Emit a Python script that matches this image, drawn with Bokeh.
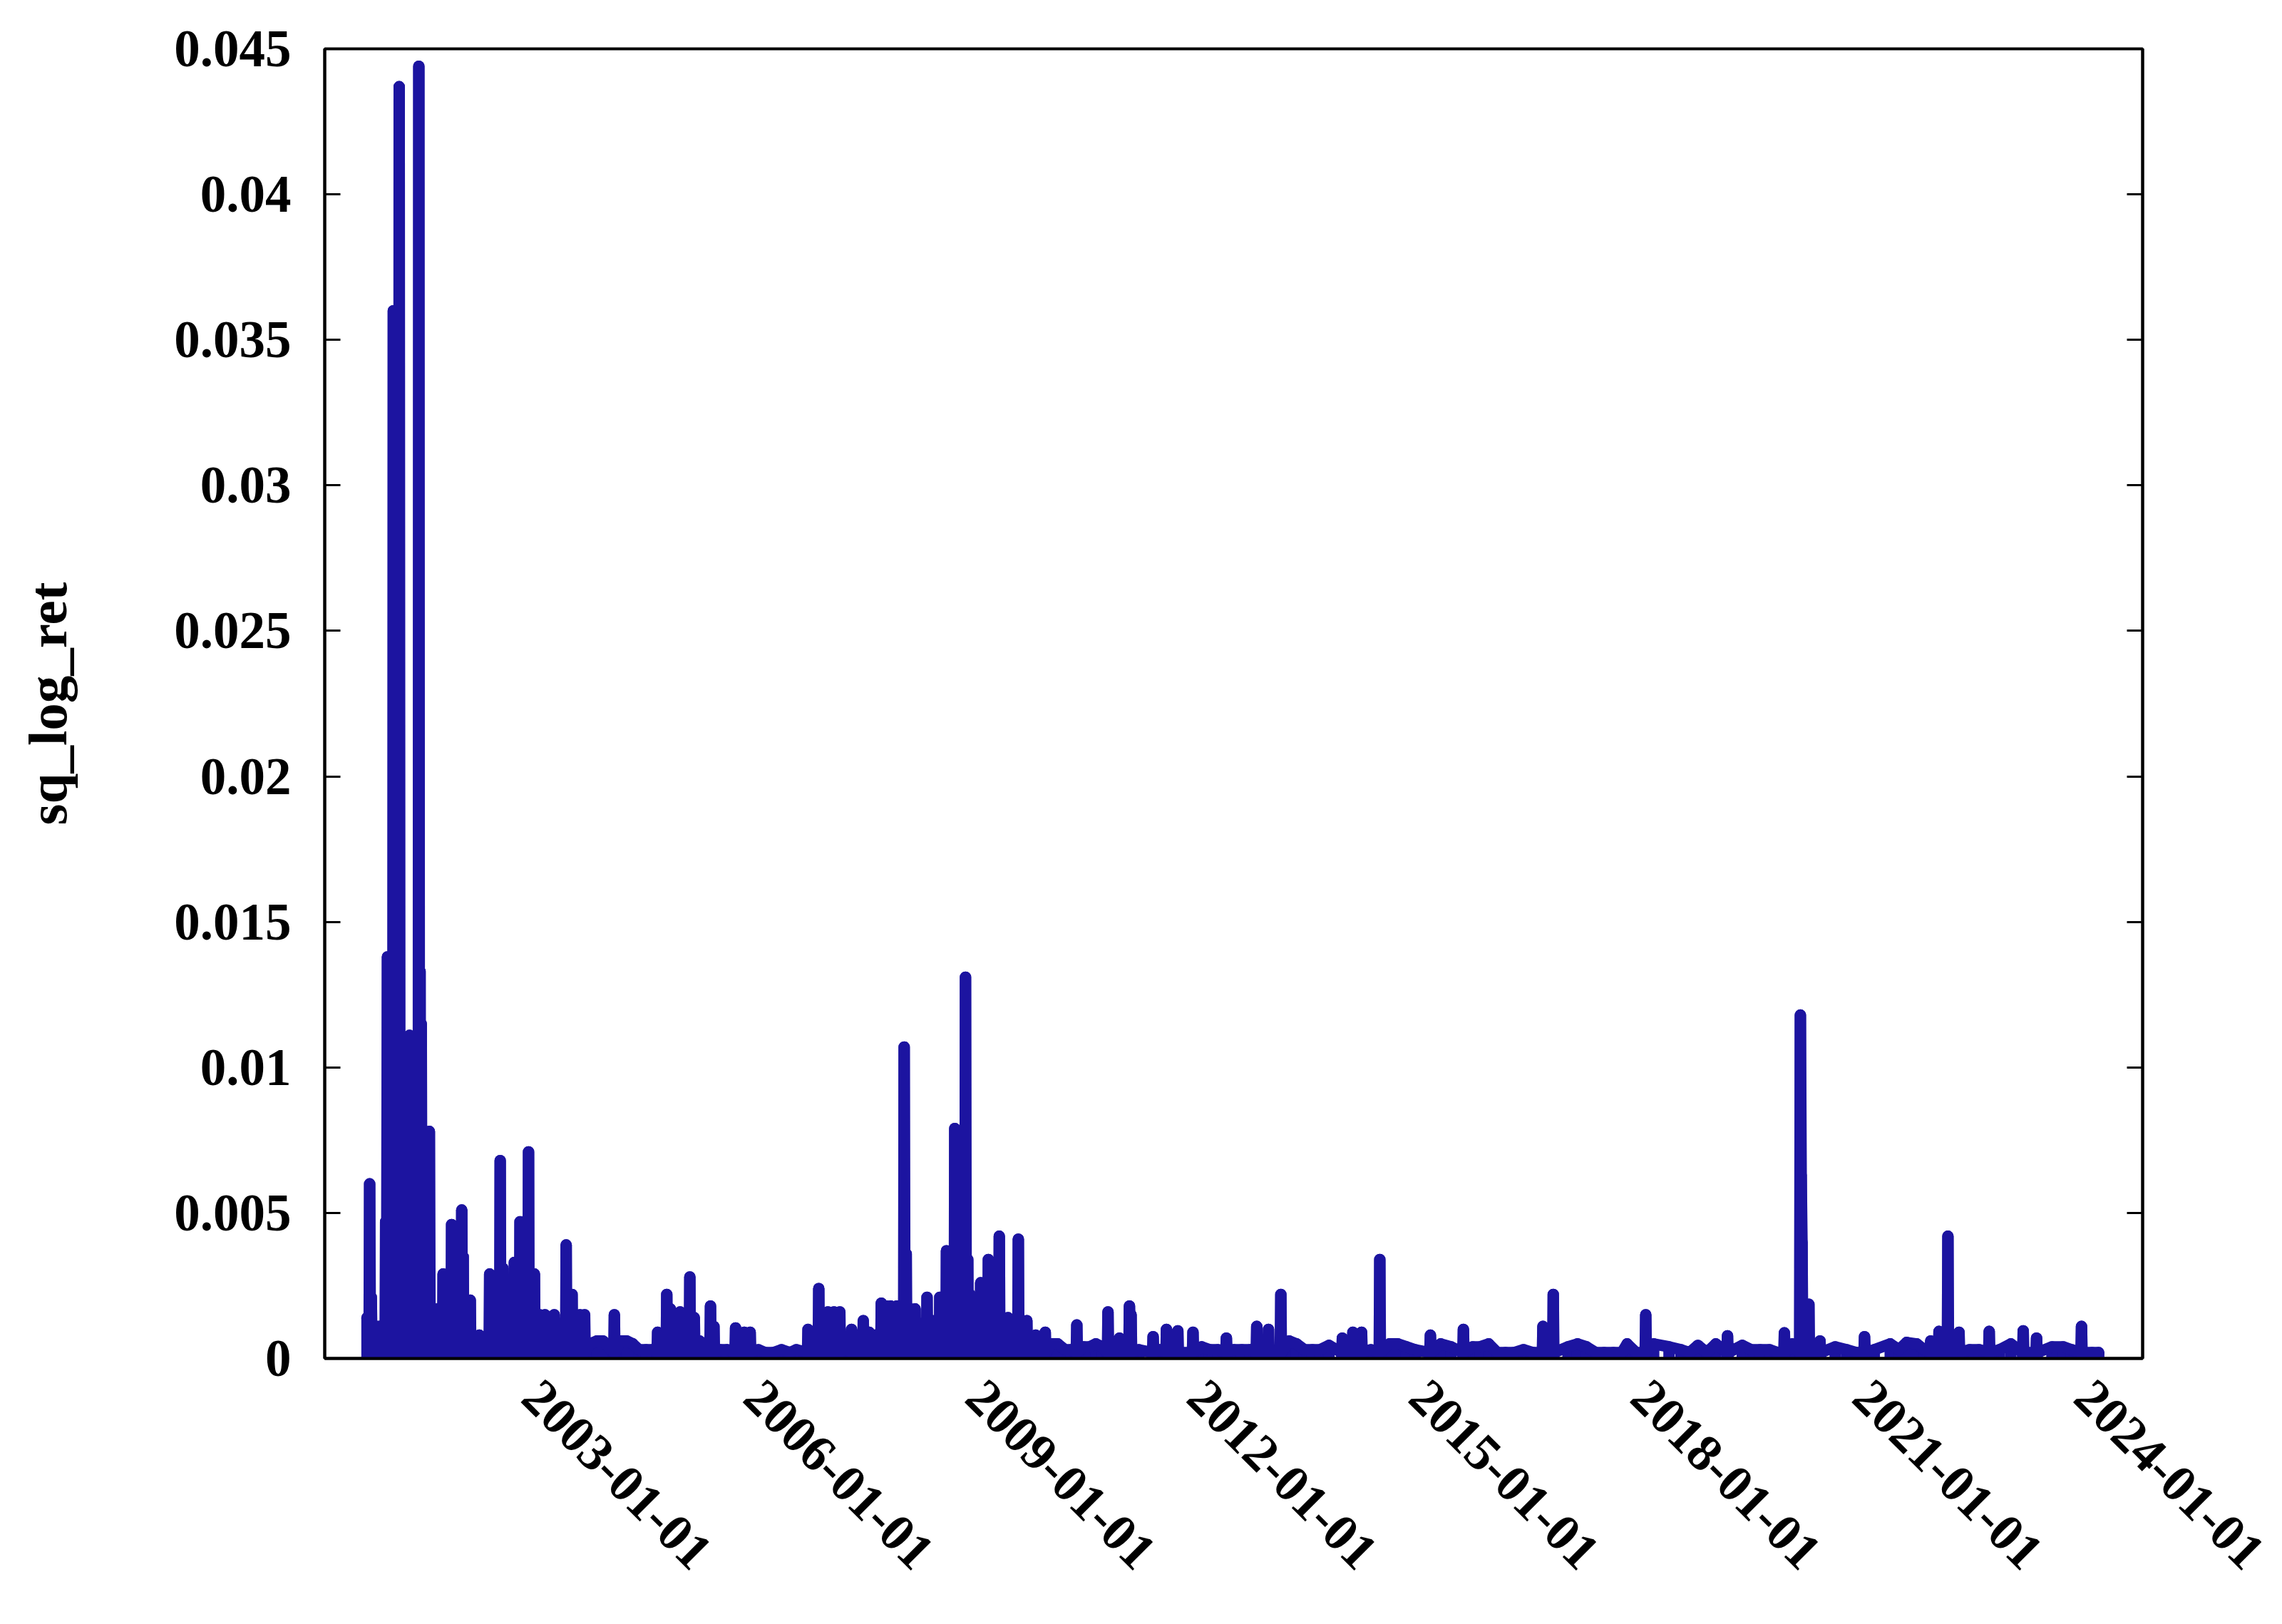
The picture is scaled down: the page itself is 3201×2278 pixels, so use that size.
import math
import pandas as pd
from bokeh.plotting import figure
from bokeh.models import (ColumnDataSource, Range1d, FixedTicker, DatetimeTickFormatter,
                          CustomJSTickFormatter, LinearAxis)
from bokeh.embed import file_html
from bokeh.resources import INLINE

# ---------------- data ----------------
dates_2000_2004 = [
    "2000-10-10", "2000-10-20", "2000-10-23", "2000-10-27", "2000-10-31", "2000-11-04", "2000-11-22",
    "2000-11-25", "2000-11-28", "2000-12-07", "2000-12-10", "2000-12-13", "2000-12-23", "2000-12-26",
    "2000-12-29", "2001-01-07", "2001-01-10", "2001-01-14", "2001-01-19", "2001-01-23", "2001-01-31",
    "2001-02-03", "2001-02-06", "2001-02-14", "2001-02-17", "2001-02-21", "2001-02-27", "2001-03-02",
    "2001-03-05", "2001-03-15", "2001-03-18", "2001-03-22", "2001-04-07", "2001-04-10", "2001-04-13",
    "2001-05-05", "2001-05-08", "2001-05-12", "2001-05-27", "2001-05-30", "2001-06-02", "2001-06-20",
    "2001-06-23", "2001-06-26", "2001-06-29", "2001-07-02", "2001-07-05", "2001-07-09", "2001-08-11",
    "2001-08-14", "2001-08-18", "2001-09-20", "2001-09-23", "2001-09-26", "2001-10-18", "2001-10-21",
    "2001-10-24", "2001-11-29", "2001-12-02", "2001-12-06", "2002-01-18", "2002-01-21", "2002-01-25",
    "2002-01-28", "2002-01-31", "2002-03-01", "2002-03-04", "2002-03-07", "2002-04-15", "2002-04-18",
    "2002-04-21", "2002-06-05", "2002-06-08", "2002-06-11", "2002-07-27", "2002-07-30", "2002-08-02",
    "2002-08-09", "2002-08-12", "2002-08-15", "2002-09-03", "2002-09-06", "2002-09-09", "2002-10-05",
    "2002-10-08", "2002-10-11", "2002-11-02", "2002-11-05", "2002-11-08", "2002-12-14", "2002-12-17",
    "2002-12-20", "2003-01-12", "2003-01-15", "2003-01-18", "2003-02-07", "2003-02-10", "2003-02-13",
    "2003-03-05", "2003-03-08", "2003-03-11", "2003-04-20", "2003-04-23", "2003-04-26", "2003-05-19",
    "2003-05-22", "2003-05-25", "2003-06-18", "2003-06-21", "2003-06-24", "2003-07-17", "2003-07-20",
    "2003-07-23", "2003-08-25", "2003-08-28", "2003-08-31", "2003-09-17", "2003-09-20", "2003-09-23",
    "2003-10-15", "2003-11-20", "2003-12-20", "2004-02-11", "2004-02-14", "2004-02-17", "2004-03-15",
    "2004-04-15", "2004-05-15", "2004-06-15", "2004-07-20", "2004-08-20", "2004-09-12", "2004-09-15",
    "2004-09-18", "2004-10-27", "2004-10-30", "2004-11-02", "2004-11-14", "2004-11-17", "2004-11-20",
    "2004-12-02", "2004-12-05", "2004-12-08",
]
sq_2000_2004 = [
    0.0014, 0.0002, 0.0060, 0.0002, 0.0021, 0.0002, 0.0002,
    0.0011, 0.0002, 0.0002, 0.0011, 0.0002, 0.0002, 0.0011,
    0.0002, 0.0002, 0.0047, 0.0002, 0.0138, 0.0002, 0.0002,
    0.0010, 0.0002, 0.0002, 0.0360, 0.0002, 0.0002, 0.0030,
    0.0002, 0.0002, 0.0437, 0.0002, 0.0002, 0.0030, 0.0002,
    0.0002, 0.0111, 0.0002, 0.0002, 0.0030, 0.0002, 0.0002,
    0.0444, 0.0003, 0.0133, 0.0003, 0.0115, 0.0002, 0.0002,
    0.0078, 0.0002, 0.0002, 0.0017, 0.0002, 0.0002, 0.0029,
    0.0002, 0.0002, 0.0046, 0.0002, 0.0002, 0.0051, 0.0002,
    0.0035, 0.0002, 0.0002, 0.0020, 0.0002, 0.0002, 0.0008,
    0.0002, 0.0002, 0.0029, 0.0002, 0.0002, 0.0068, 0.0002,
    0.0002, 0.0031, 0.0002, 0.0002, 0.0026, 0.0002, 0.0002,
    0.0033, 0.0002, 0.0002, 0.0047, 0.0002, 0.0002, 0.0071,
    0.0002, 0.0002, 0.0029, 0.0002, 0.0002, 0.0015, 0.0002,
    0.0002, 0.0015, 0.0002, 0.0002, 0.0015, 0.0002, 0.0002,
    0.0012, 0.0002, 0.0002, 0.0039, 0.0002, 0.0002, 0.0022,
    0.0002, 0.0002, 0.0015, 0.0002, 0.0002, 0.0015, 0.0002,
    0.0005, 0.0006, 0.0006, 0.0002, 0.0015, 0.0002, 0.0006,
    0.0006, 0.0005, 0.0003, 0.0003, 0.0003, 0.0002, 0.0009,
    0.0002, 0.0002, 0.0022, 0.0002, 0.0002, 0.0017, 0.0002,
    0.0002, 0.0008, 0.0002,
]

dates_2005_2009 = [
    "2005-01-01", "2005-01-04", "2005-01-07", "2005-02-18", "2005-02-21", "2005-02-24", "2005-03-12",
    "2005-03-15", "2005-03-18", "2005-04-07", "2005-04-10", "2005-04-13", "2005-05-31", "2005-06-03",
    "2005-06-06", "2005-06-17", "2005-06-20", "2005-06-23", "2005-07-20", "2005-08-25", "2005-10-02",
    "2005-10-05", "2005-10-08", "2005-11-14", "2005-11-17", "2005-11-20", "2005-12-13", "2005-12-16",
    "2005-12-19", "2006-01-25", "2006-03-01", "2006-04-10", "2006-05-20", "2006-07-01", "2006-08-01",
    "2006-09-25", "2006-09-28", "2006-10-01", "2006-11-17", "2006-11-20", "2006-11-23", "2007-01-01",
    "2007-01-04", "2007-01-07", "2007-01-31", "2007-02-03", "2007-02-06", "2007-03-01", "2007-03-04",
    "2007-03-07", "2007-03-25", "2007-04-28", "2007-05-01", "2007-05-04", "2007-05-22", "2007-05-25",
    "2007-05-28", "2007-06-25", "2007-06-28", "2007-07-01", "2007-07-24", "2007-07-27", "2007-07-30",
    "2007-08-22", "2007-08-25", "2007-08-28", "2007-09-22", "2007-09-25", "2007-09-28", "2007-10-17",
    "2007-10-20", "2007-10-23", "2007-11-07", "2007-11-10", "2007-11-13", "2007-12-07", "2007-12-10",
    "2007-12-13", "2008-01-13", "2008-01-16", "2008-01-20", "2008-01-26", "2008-01-29", "2008-02-12",
    "2008-02-15", "2008-02-18", "2008-03-07", "2008-03-10", "2008-03-13", "2008-04-07", "2008-04-10",
    "2008-04-13", "2008-05-05", "2008-05-08", "2008-05-11", "2008-06-02", "2008-06-05", "2008-06-08",
    "2008-07-07", "2008-07-10", "2008-07-13", "2008-08-05", "2008-08-09", "2008-08-12", "2008-08-15",
    "2008-09-19", "2008-09-22", "2008-09-25", "2008-11-11", "2008-11-14", "2008-11-18", "2008-11-25",
    "2008-11-28", "2008-12-03", "2008-12-06", "2008-12-09", "2009-01-25", "2009-01-28", "2009-01-31",
    "2009-02-05", "2009-02-08", "2009-03-04", "2009-03-07", "2009-03-10", "2009-04-27", "2009-04-30",
    "2009-05-03", "2009-06-09", "2009-06-12", "2009-06-15", "2009-07-30", "2009-08-02", "2009-08-05",
    "2009-09-10", "2009-09-13", "2009-09-16", "2009-10-24", "2009-10-27", "2009-10-30", "2009-12-10",
    "2009-12-13", "2009-12-16",
]
sq_2005_2009 = [
    0.0002, 0.0016, 0.0002, 0.0002, 0.0028, 0.0002, 0.0002,
    0.0014, 0.0002, 0.0002, 0.0006, 0.0002, 0.0002, 0.0018,
    0.0002, 0.0002, 0.0011, 0.0002, 0.0003, 0.0003, 0.0002,
    0.00105, 0.0002, 0.0002, 0.0009, 0.0002, 0.0002, 0.0009,
    0.0002, 0.0003, 0.0002, 0.0002, 0.0003, 0.0002, 0.0003,
    0.0002, 0.0010, 0.0002, 0.0002, 0.0024, 0.0002, 0.0002,
    0.0016, 0.0002, 0.0002, 0.0016, 0.0002, 0.0002, 0.0016,
    0.0002, 0.0004, 0.0002, 0.0010, 0.0002, 0.0002, 0.0008,
    0.0002, 0.0002, 0.0013, 0.0002, 0.0002, 0.0009, 0.0002,
    0.0002, 0.0008, 0.0002, 0.0002, 0.0019, 0.0002, 0.0002,
    0.0018, 0.0002, 0.0002, 0.0018, 0.0002, 0.0002, 0.0018,
    0.0002, 0.0002, 0.0107, 0.0002, 0.0036, 0.0002, 0.0002,
    0.0017, 0.0002, 0.0002, 0.0017, 0.0002, 0.0002, 0.0012,
    0.0002, 0.0002, 0.0021, 0.0002, 0.0002, 0.0013, 0.0002,
    0.0002, 0.0021, 0.0002, 0.0006, 0.0002, 0.0037, 0.0002,
    0.0002, 0.0079, 0.0002, 0.0002, 0.0131, 0.0002, 0.0034,
    0.0002, 0.0002, 0.0022, 0.0002, 0.0002, 0.0026, 0.0002,
    0.0020, 0.0002, 0.0002, 0.0034, 0.0002, 0.0002, 0.0042,
    0.0002, 0.0002, 0.0014, 0.0002, 0.0002, 0.0041, 0.0002,
    0.0002, 0.0013, 0.0002, 0.0002, 0.0008, 0.0002, 0.0002,
    0.0009, 0.0002,
]

dates_2010_2014 = [
    "2010-01-15", "2010-02-13", "2010-03-20", "2010-04-20", "2010-05-15", "2010-05-18", "2010-05-21",
    "2010-06-20", "2010-07-20", "2010-08-20", "2010-09-20", "2010-10-16", "2010-10-19", "2010-10-22",
    "2010-12-12", "2010-12-15", "2010-12-18", "2011-01-30", "2011-02-02", "2011-02-06", "2011-02-10",
    "2011-02-13", "2011-03-20", "2011-05-27", "2011-05-30", "2011-06-02", "2011-07-01", "2011-08-01",
    "2011-08-04", "2011-08-07", "2011-09-26", "2011-09-29", "2011-10-02", "2011-12-10", "2011-12-13",
    "2011-12-16", "2012-01-25", "2012-03-05", "2012-04-15", "2012-05-23", "2012-05-26", "2012-05-29",
    "2012-07-01", "2012-08-10", "2012-09-20", "2012-10-20", "2012-10-23", "2012-10-26", "2012-12-17",
    "2012-12-20", "2012-12-23", "2013-02-16", "2013-02-19", "2013-02-22", "2013-04-01", "2013-05-08",
    "2013-06-15", "2013-07-25", "2013-09-01", "2013-10-15", "2013-12-17", "2013-12-20", "2013-12-23",
    "2014-02-07", "2014-02-10", "2014-02-13", "2014-03-22", "2014-03-25", "2014-03-28", "2014-05-10",
    "2014-06-20", "2014-06-23", "2014-06-26", "2014-08-10", "2014-09-20", "2014-11-01", "2014-12-15",
]
sq_2010_2014 = [
    0.0005, 0.0005, 0.0003, 0.0003, 0.0002, 0.00115, 0.0002,
    0.0004, 0.0004, 0.0005, 0.0004, 0.0002, 0.0016, 0.0002,
    0.0002, 0.0007, 0.0002, 0.0002, 0.0018, 0.0003, 0.0015,
    0.0002, 0.0003, 0.0002, 0.00075, 0.0002, 0.0003, 0.0002,
    0.0010, 0.0002, 0.0002, 0.00095, 0.0002, 0.0002, 0.0009,
    0.0002, 0.0004, 0.0003, 0.0003, 0.0002, 0.0007, 0.0002,
    0.0003, 0.0003, 0.0003, 0.0002, 0.0011, 0.0002, 0.0002,
    0.0010, 0.0002, 0.0002, 0.0022, 0.0002, 0.0006, 0.0005,
    0.0003, 0.0003, 0.0003, 0.00045, 0.0002, 0.0007, 0.0002,
    0.0002, 0.0009, 0.0002, 0.0002, 0.0009, 0.0002, 0.0003,
    0.0002, 0.0034, 0.0002, 0.0005, 0.0005, 0.0004, 0.0003,
]

dates_2015_2019 = [
    "2015-02-25", "2015-02-28", "2015-03-03", "2015-04-20", "2015-06-10", "2015-08-07", "2015-08-10",
    "2015-08-13", "2015-09-25", "2015-11-01", "2015-12-13", "2016-01-25", "2016-03-05", "2016-04-15",
    "2016-06-02", "2016-07-20", "2016-09-03", "2016-09-06", "2016-09-09", "2016-10-24", "2016-10-27",
    "2016-10-30", "2017-01-08", "2017-02-24", "2017-04-09", "2017-05-25", "2017-07-05", "2017-08-20",
    "2017-10-01", "2017-10-27", "2017-12-10", "2018-01-24", "2018-01-27", "2018-01-30", "2018-03-07",
    "2018-05-22", "2018-07-20", "2018-09-01", "2018-10-12", "2018-11-25", "2019-01-08", "2019-03-04",
    "2019-03-07", "2019-03-10", "2019-05-19", "2019-07-01", "2019-08-15", "2019-10-01", "2019-11-10",
    "2019-12-10", "2019-12-13", "2019-12-16",
]
sq_2015_2019 = [
    0.0002, 0.0008, 0.0002, 0.0005, 0.0004, 0.0002, 0.0010,
    0.0002, 0.0004, 0.0004, 0.0005, 0.0002, 0.0002, 0.0002,
    0.0003, 0.0002, 0.0002, 0.0011, 0.0002, 0.0002, 0.0022,
    0.0002, 0.0004, 0.0005, 0.0004, 0.0002, 0.0002, 0.0002,
    0.0002, 0.0005, 0.0002, 0.0002, 0.0015, 0.0002, 0.0005,
    0.0004, 0.0003, 0.0002, 0.00045, 0.0002, 0.0005, 0.0002,
    0.00078, 0.0002, 0.00045, 0.0003, 0.0003, 0.0003, 0.0002,
    0.0002, 0.00088, 0.0002,
]

dates_2020_2024 = [
    "2020-01-20", "2020-02-26", "2020-03-01", "2020-03-05", "2020-03-09", "2020-03-13", "2020-04-09",
    "2020-04-12", "2020-04-15", "2020-06-03", "2020-06-06", "2020-06-09", "2020-08-20", "2020-10-15",
    "2020-12-05", "2021-01-09", "2021-01-12", "2021-01-15", "2021-03-01", "2021-05-19", "2021-07-01",
    "2021-08-08", "2021-09-27", "2021-11-03", "2021-12-02", "2021-12-05", "2021-12-08", "2022-01-12",
    "2022-01-15", "2022-01-18", "2022-02-25", "2022-02-28", "2022-03-03", "2022-04-21", "2022-04-24",
    "2022-04-27", "2022-06-15", "2022-08-01", "2022-09-17", "2022-09-20", "2022-09-23", "2022-11-10",
    "2023-01-05", "2023-03-04", "2023-03-07", "2023-03-10", "2023-05-09", "2023-05-12", "2023-05-15",
    "2023-07-27", "2023-09-20", "2023-11-01", "2023-12-17", "2023-12-20", "2023-12-23", "2024-02-10",
    "2024-03-14",
]
sq_2020_2024 = [
    0.0005, 0.0002, 0.0118, 0.0063, 0.0040, 0.0002, 0.0002,
    0.00186, 0.0002, 0.0002, 0.0006, 0.0002, 0.0004, 0.0003,
    0.0002, 0.0002, 0.00075, 0.0002, 0.0003, 0.0005, 0.0003,
    0.00055, 0.0005, 0.0003, 0.0002, 0.0006, 0.0002, 0.0002,
    0.00093, 0.0002, 0.0002, 0.0042, 0.0002, 0.0002, 0.0009,
    0.0002, 0.0003, 0.0003, 0.0002, 0.00093, 0.0002, 0.0003,
    0.0005, 0.0002, 0.00095, 0.0002, 0.0002, 0.0007, 0.0002,
    0.0004, 0.0004, 0.0003, 0.0002, 0.0011, 0.0002, 0.0002,
    0.0002,
]

y_ticks = [0.0, 0.005, 0.01, 0.015, 0.02, 0.025, 0.03, 0.035, 0.04, 0.045]
y_tick_labels = ["0", "0.005", "0.01", "0.015", "0.02", "0.025", "0.03", "0.035", "0.04", "0.045"]
x_tick_labels = ["2003-01-01", "2006-01-01", "2009-01-01", "2012-01-01",
                 "2015-01-01", "2018-01-01", "2021-01-01", "2024-01-01"]
x_start, x_end = "2000-03-15", "2024-10-17"
y_label = "sq_log_ret"

# ---------------- build ----------------
all_dates = dates_2000_2004 + dates_2005_2009 + dates_2010_2014 + dates_2015_2019 + dates_2020_2024
all_vals = sq_2000_2004 + sq_2005_2009 + sq_2010_2014 + sq_2015_2019 + sq_2020_2024
src = ColumnDataSource(dict(date=pd.to_datetime(all_dates), sq_log_ret=all_vals))

FONT = "Liberation Serif"
FS = "73px"
LINE_COLOR = "#1c14a0"
LW = 16

p = figure(width=3195, height=2265, x_axis_type="datetime",
           x_range=Range1d(pd.Timestamp(x_start), pd.Timestamp(x_end)),
           y_range=Range1d(0, 0.045),
           output_backend="svg", toolbar_location=None,
           min_border_left=455, min_border_right=190, min_border_top=68, min_border_bottom=360)
p.background_fill_color = "white"
p.border_fill_color = "white"
p.grid.visible = False
p.outline_line_color = "black"
p.outline_line_width = 4

# dense daily series: every observation drops to the zero line (stems) and is joined by the line
p.segment(x0="date", y0=0, x1="date", y1="sq_log_ret", source=src,
          line_color=LINE_COLOR, line_width=LW, line_cap="round")
p.line(x="date", y="sq_log_ret", source=src, line_color=LINE_COLOR, line_width=LW,
       line_join="round", line_cap="round")

x_tick_ms = [pd.Timestamp(s).value // 10**6 for s in x_tick_labels]
xa = p.xaxis[0]
xa.ticker = FixedTicker(ticks=x_tick_ms)
fmt = "%Y-%m-%d"
xa.formatter = DatetimeTickFormatter(years=fmt, months=fmt, days=fmt, hours=fmt, hourmin=fmt,
                                     minutes=fmt, minsec=fmt, seconds=fmt, milliseconds=fmt,
                                     microseconds=fmt)
xa.major_label_orientation = -math.pi / 4
xa.major_tick_in = 0
xa.major_tick_out = 0
xa.minor_tick_in = 0
xa.minor_tick_out = 0
xa.axis_line_width = 4
xa.axis_line_color = "black"
xa.major_label_standoff = 42
xa.major_label_text_font = FONT
xa.major_label_text_font_size = FS
xa.major_label_text_font_style = "bold"
xa.major_label_text_color = "black"

ya = p.yaxis[0]
ya.ticker = FixedTicker(ticks=y_ticks)
ya.formatter = CustomJSTickFormatter(
    args=dict(yt=y_ticks, yl=y_tick_labels),
    code="const i = yt.findIndex(t => Math.abs(t - tick) < 1e-9); return i >= 0 ? yl[i] : '';")
ya.major_tick_in = 22
ya.major_tick_out = 0
ya.minor_tick_in = 0
ya.minor_tick_out = 0
ya.major_tick_line_width = 3
ya.axis_line_width = 4
ya.axis_line_color = "black"
ya.major_label_standoff = 47
ya.major_label_text_font = FONT
ya.major_label_text_font_size = FS
ya.major_label_text_font_style = "bold"
ya.major_label_text_color = "black"
ya.axis_label = y_label
ya.axis_label_text_font = FONT
ya.axis_label_text_font_size = "77px"
ya.axis_label_text_font_style = "bold"
ya.axis_label_text_color = "black"
ya.axis_label_standoff = 131

ra = LinearAxis(ticker=FixedTicker(ticks=y_ticks),
                formatter=CustomJSTickFormatter(code="return '';"))
ra.major_tick_in = 22
ra.major_tick_out = 0
ra.minor_tick_in = 0
ra.minor_tick_out = 0
ra.major_tick_line_width = 3
ra.axis_line_width = 4
ra.major_label_standoff = 0
ra.major_label_text_font_size = "1px"
p.add_layout(ra, "right")

open("out.html", "w").write(file_html(p, INLINE))
